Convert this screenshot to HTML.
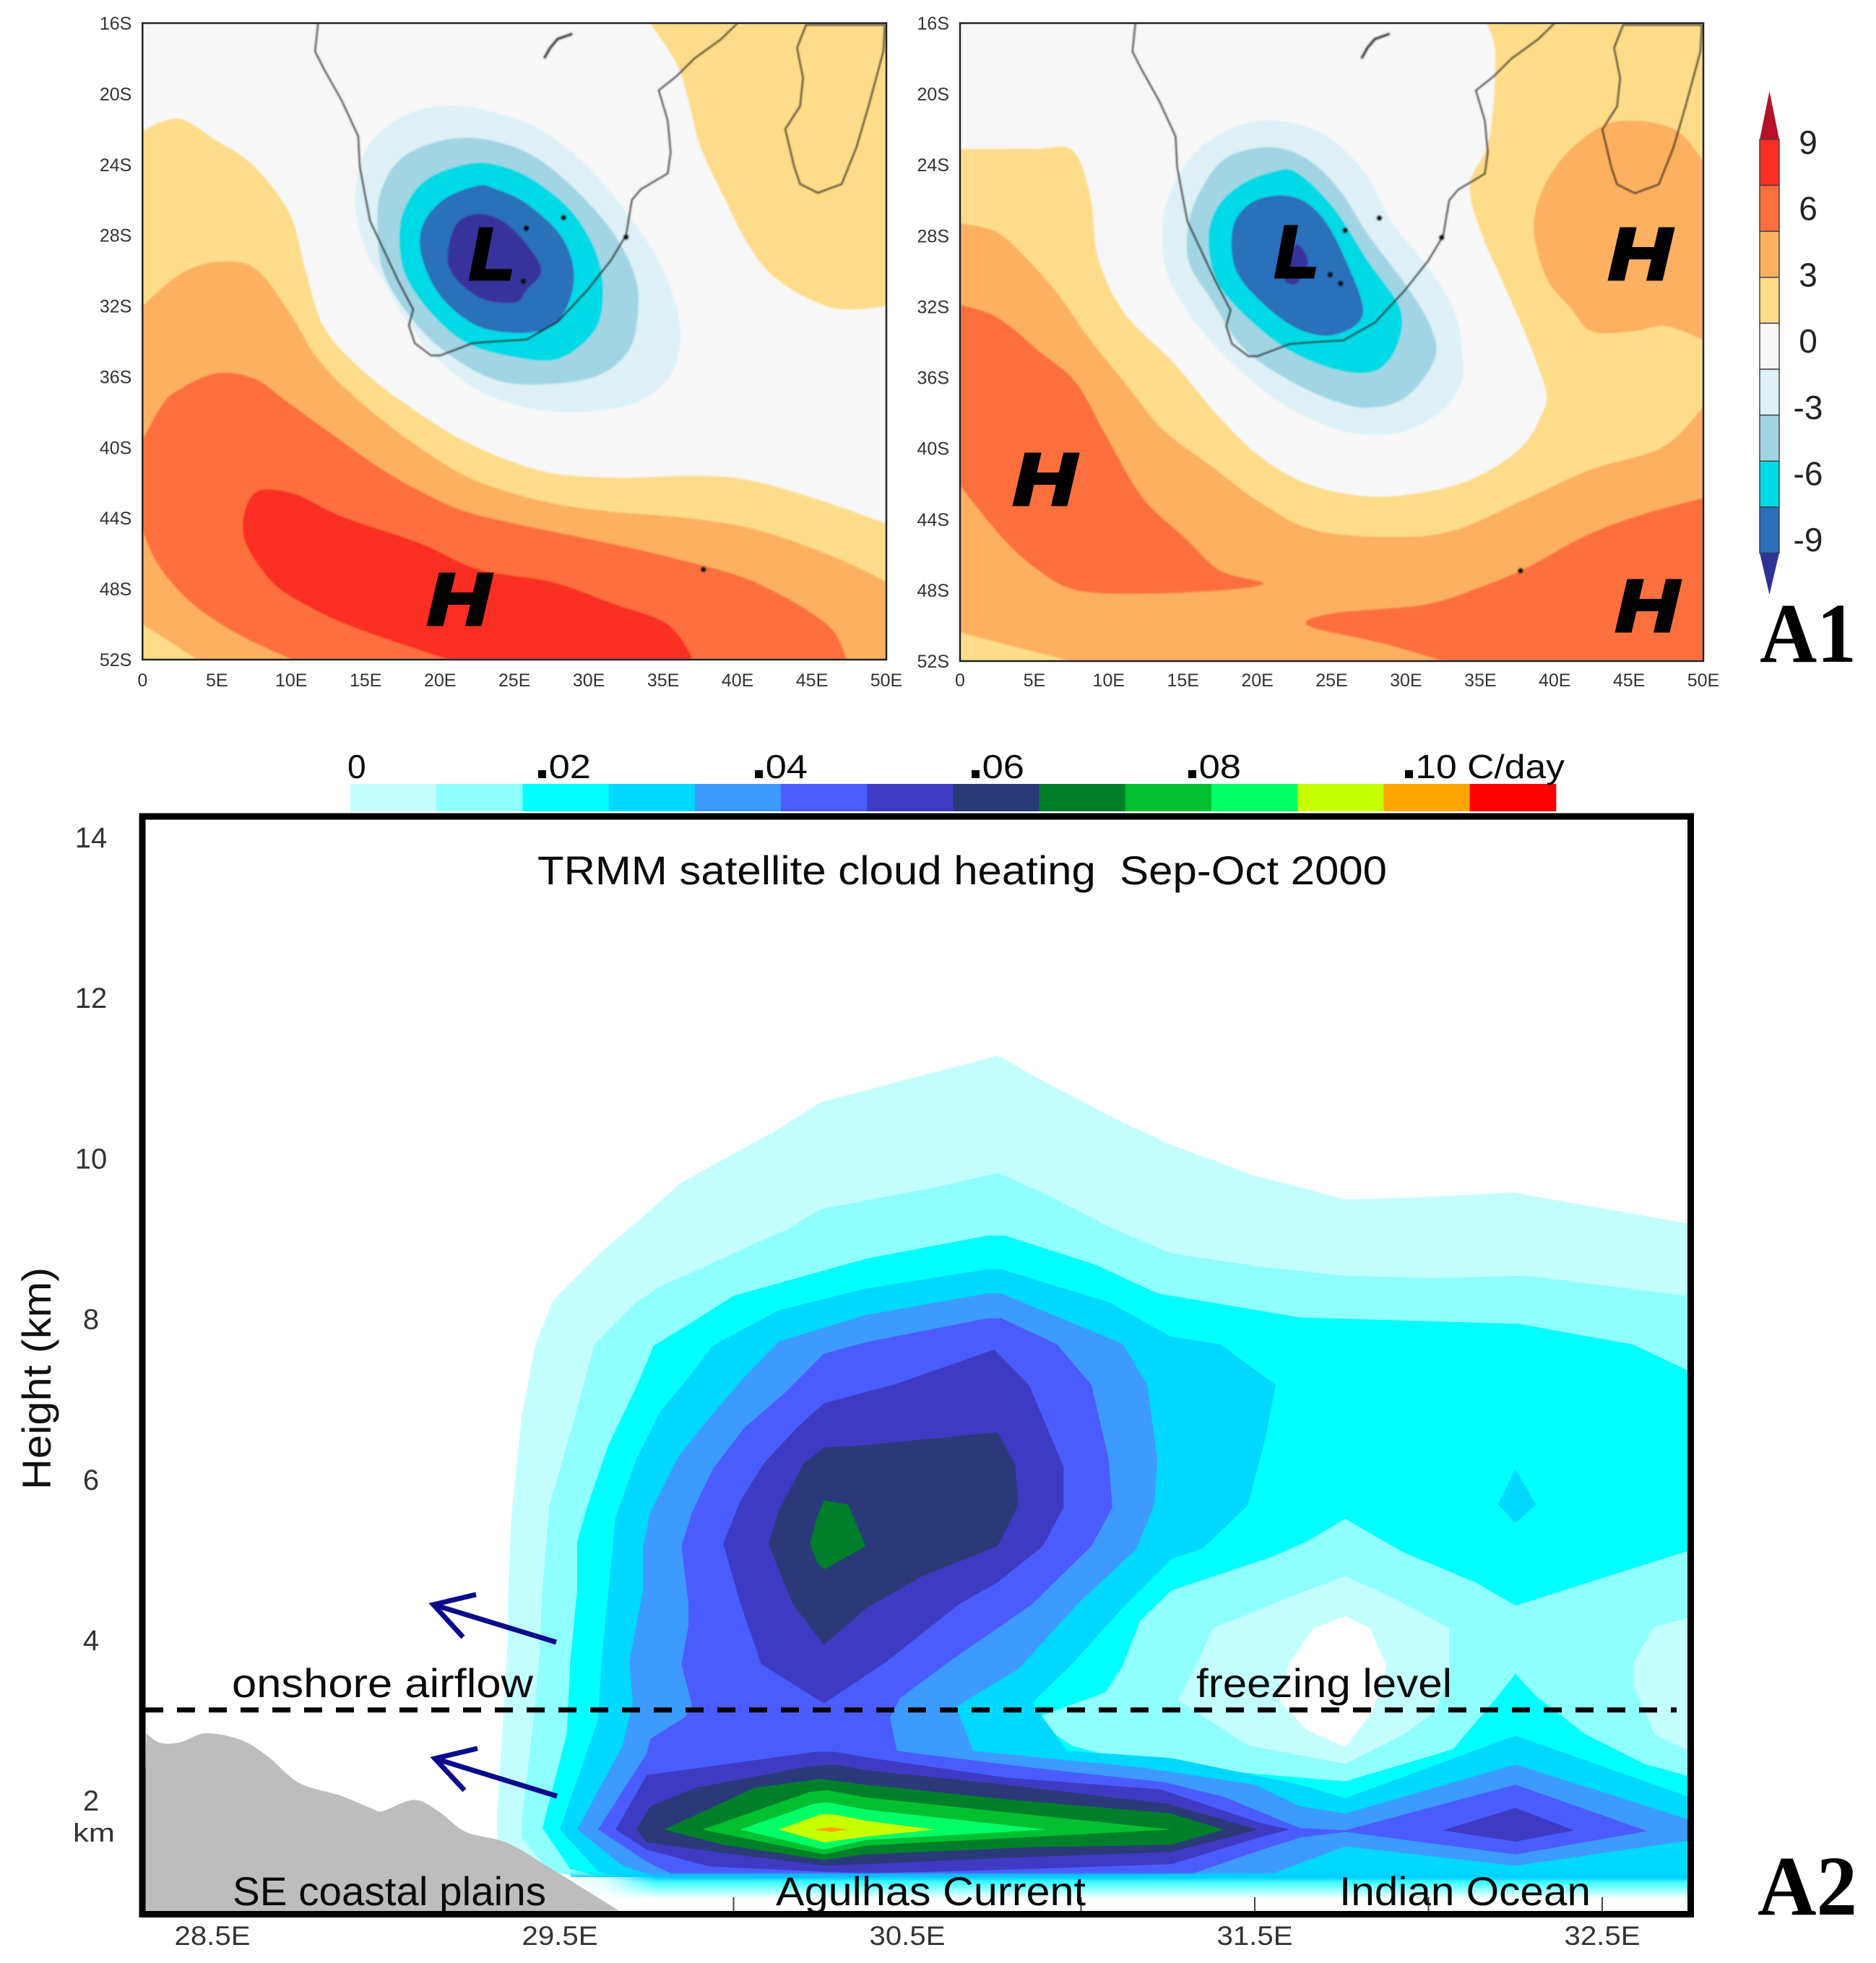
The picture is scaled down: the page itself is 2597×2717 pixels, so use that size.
<!DOCTYPE html>
<html lang="en">
<head>
<meta charset="utf-8">
<title>Pressure anomaly maps and TRMM cloud heating section</title>
<style>
html,body{margin:0;padding:0;background:#fff;}
svg{display:block;}
text{font-family:"Liberation Sans",sans-serif;}
.tick{fill:#333;}
.note{fill:#0b0b0b;}
</style>
</head>
<body>
<svg id="fig" xmlns="http://www.w3.org/2000/svg" width="2597" height="2717" viewBox="0 0 2597 2717">
<defs>
<clipPath id="clip-a"><rect x="197" y="32" width="1030" height="881"/></clipPath>
<clipPath id="clip-b"><rect x="1329" y="32" width="1029" height="883"/></clipPath>
<clipPath id="clip-c"><rect x="200" y="1134" width="2136" height="1512"/></clipPath>
<filter id="soft" x="-2%" y="-2%" width="104%" height="104%"><feGaussianBlur stdDeviation="1"/></filter>
<linearGradient id="fade" x1="0" y1="0" x2="0" y2="1">
<stop offset="0" stop-color="#00CCFF" stop-opacity="0"/>
<stop offset="0.21" stop-color="#00CCFF" stop-opacity="0.8"/>
<stop offset="0.42" stop-color="#40FFFF"/>
<stop offset="1" stop-color="#FFFFFF"/>
</linearGradient>
<linearGradient id="fade-left" x1="0" y1="0" x2="1" y2="0">
<stop offset="0" stop-color="#FFFFFF"/>
<stop offset="0.45" stop-color="#FFFFFF" stop-opacity="0.85"/>
<stop offset="1" stop-color="#FFFFFF" stop-opacity="0"/>
</linearGradient>
</defs>
<rect x="0" y="0" width="2597" height="2717" fill="#fff"/>
<g clip-path="url(#clip-a)"><g id="panel-a" filter="url(#soft)"></g></g>
<g clip-path="url(#clip-b)"><g id="panel-b" filter="url(#soft)"></g></g>
<g id="map-axes"></g>
<g id="map-cbar"></g>
<g id="section-cbar"></g>
<g id="section" clip-path="url(#clip-c)"></g>
<g id="section-axes"></g>

<g font-weight="bold" font-style="italic" fill="#000" stroke="#000" stroke-width="5" font-size="100">
<text x="650" y="386" textLength="62" lengthAdjust="spacingAndGlyphs">L</text>
<text x="592" y="864" textLength="86" lengthAdjust="spacingAndGlyphs">H</text>
<text x="1765" y="383" textLength="60" lengthAdjust="spacingAndGlyphs">L</text>
<text x="2227" y="386" textLength="86" lengthAdjust="spacingAndGlyphs">H</text>
<text x="1403" y="698" textLength="86" lengthAdjust="spacingAndGlyphs">H</text>
<text x="2237" y="873" textLength="86" lengthAdjust="spacingAndGlyphs">H</text>
</g>

<g font-weight="bold" fill="#000">
<text x="2436" y="916" font-size="118" style="font-family:'Liberation Serif',serif" textLength="134" lengthAdjust="spacingAndGlyphs">A1</text>
<text x="2433" y="2650" font-size="118" style="font-family:'Liberation Serif',serif" textLength="138" lengthAdjust="spacingAndGlyphs">A2</text>
</g>

<g class="note" font-size="56">
<text class="note" x="744" y="1224" textLength="1176" lengthAdjust="spacingAndGlyphs" xml:space="preserve">TRMM satellite cloud heating  Sep-Oct 2000</text>
<text class="note" x="321" y="2349" textLength="417" lengthAdjust="spacingAndGlyphs">onshore airflow</text>
<text class="note" x="1656" y="2349" textLength="354" lengthAdjust="spacingAndGlyphs">freezing level</text>
<text class="note" x="322" y="2637" textLength="434" lengthAdjust="spacingAndGlyphs">SE coastal plains</text>
<text class="note" x="1074" y="2637" textLength="429" lengthAdjust="spacingAndGlyphs">Agulhas Current</text>
<text class="note" x="1854" y="2637" textLength="348" lengthAdjust="spacingAndGlyphs">Indian Ocean</text>
</g>

<g fill="none" stroke="#0A0A8C" stroke-width="7">
<path d="M770 2273 L600 2221 M659 2207 L600 2221 L641 2266"/>
<path d="M771 2486 L602 2434 M661 2420 L602 2434 L643 2478"/>
</g>

<text transform="translate(70,2062) rotate(-90)" font-size="56" fill="#111" textLength="308" lengthAdjust="spacingAndGlyphs">Height (km)</text>
<text class="tick" x="101" y="2549" font-size="36" textLength="58" lengthAdjust="spacingAndGlyphs">km</text>
<rect x="197" y="1130" width="2143.5" height="1519.5" fill="none" stroke="#000" stroke-width="9"/>

<script>
/* ---------- map axes ---------- */
const mapLatTicks = [16,20,24,28,32,36,40,44,48,52];
const mapLonTicks = [0,5,10,15,20,25,30,35,40,45,50];

/* ---------- coastlines [lon, degrees south] ---------- */
const coastAfrica = [[11.8,16],[11.6,17.6],[12.2,18.6],[13.4,20.4],[14.5,22.4],[14.6,24.1],[15,25.9],[15.3,27.2],[16.2,28.8],[17.2,30.6],[18.2,32.2],[17.9,33.1],[18.3,34.1],[19.4,34.8],[20,34.8],[22.2,34.1],[23.8,34],[25.8,33.9],[27.9,32.9],[29.9,31.1],[31.5,29.4],[32.5,28],[32.9,26],[33.5,25.4],[35.3,24.5],[35.5,23.3],[35.3,21.5],[34.7,19.8],[35.9,19],[37.1,18],[38.9,16.9],[40,16]];
const coastMadagascar = [[49.9,16.1],[44.6,16.1],[44,17.4],[44.4,19.1],[44.2,20.7],[43.2,22],[43.8,24.1],[44.2,25.1],[45.4,25.6],[47,25.1],[48,23],[48.8,20.7],[49.8,17.6],[49.9,16.1]];
const lakeShore = [[27,18],[27.4,17.4],[27.9,16.9],[28.9,16.6]];
const islandsLeft = [[25.8,27.6],[28.3,27],[32.5,28.1],[25.6,30.6],[37.7,46.9]];
const islandsRight = [[25.9,27.7],[28.2,27],[32.4,28.1],[24.9,30.2],[25.6,30.7],[37.7,46.9]];

/* ---------- left map contours ---------- */
const leftWarm1 = [[0,22.1],[2.4,21.4],[4.9,22.6],[7.5,24.1],[9.9,26.8],[11,30.1],[12.2,33.2],[14.6,35.5],[17.8,37.6],[21.8,39.7],[26.7,41.3],[31.5,41.7],[37.5,41.6],[41.1,41.9],[45.6,43],[50,44.3],[50,52],[0,52]];
const leftWarm1East = [[34.1,16],[35.9,18.3],[36.7,20.4],[37.5,23],[39.1,25.9],[40.9,28.8],[42.8,30.6],[45.6,31.9],[47.6,32.2],[50,32],[50,16]];
const leftWarm2 = [[0,32],[2.5,30.2],[5,29.5],[7.6,29.9],[9.9,32.4],[11.8,35],[14.6,37.4],[18.6,40],[22.2,41.8],[26.7,43],[31.1,43.6],[36.7,44],[41.5,44.7],[46.8,46.3],[50,47.6],[50,52],[3.7,52],[0,50]];
const leftWarm3 = [[0,39.6],[1.3,37.6],[2.5,36.7],[5,35.8],[7.5,36.1],[9.7,37.4],[13,39.4],[16.6,41.5],[21,43.4],[25,44.3],[30.7,45.3],[35.9,46.3],[41.1,47.6],[46,50],[47.3,52],[10.1,52],[6.5,50.6],[3.3,48.8],[1.1,46.7],[0,44.7]];
const leftWarm4 = [[7.5,42.6],[10.1,42.6],[13.4,43.9],[18.6,45.4],[22.6,46.9],[27.5,47.6],[31.5,48.8],[35.3,50],[37,52],[20.6,52],[17,51],[14,50.1],[11.4,49.1],[8.7,47.6],[6.8,45]];
const leftCool1 = [[21.4,20.7],[18.6,20.9],[16.2,22],[14.8,23.6],[14.3,26.2],[15,28.8],[16.2,30.6],[17.8,32.9],[20.2,35.3],[23.4,37.1],[27.9,38],[32.7,37.6],[35.1,36.3],[36,34.8],[36,32.4],[34.7,29.5],[32.7,26.9],[29.9,24.1],[26.7,22],[23.8,21.1]];
const leftCool2 = [[22.4,22.5],[19.4,22.8],[17.2,23.8],[16,25.6],[15.8,27.7],[16.2,30.1],[17.8,32.4],[20.2,34.5],[23.8,36.2],[27.5,36.4],[30.7,35.9],[32.7,34.5],[33.3,32.4],[33.1,30.3],[31.5,27.7],[28.7,25.1],[25.8,23.3]];
const leftCool3 = [[22.4,23.9],[19.8,24.5],[18.2,25.6],[17.3,27.5],[17.6,30.1],[19.4,32.4],[21.8,34.1],[25,34.9],[27.9,35],[30.1,33.7],[30.9,32.1],[30.7,29.5],[29.1,26.9],[26.7,25.1],[24.6,24.2]];
const leftCool4 = [[22.5,25.2],[20.2,26],[18.8,27.5],[18.8,29.3],[20,31.4],[22.2,33],[24.6,33.5],[27.1,33.3],[28.5,32.1],[29,30.1],[28.1,28],[25.8,26.2],[23.8,25.4]];
const leftCool5 = [[22.5,26.8],[21,27.5],[20.6,29.8],[22.6,31.5],[25,31.8],[25.8,31.1],[26.8,30],[25.8,28.5],[24.2,27.2]];

/* ---------- right map contours ---------- */
const rightWarm1 = [[0,23.1],[2.5,23.1],[5.1,23.1],[7.6,23.2],[8.8,25.9],[9.3,29.3],[11.1,32.4],[14.4,35.2],[17.3,38.1],[20.1,40.4],[23.4,42],[27.5,42.7],[31.7,42.4],[35,41.5],[37.8,39.9],[39.1,38.1],[39.4,36.8],[38.2,33.9],[36.6,30.8],[35,27.7],[34.3,25.1],[35.6,22.5],[36,17.8],[35.4,16],[50,16],[50,52],[0,52]];
const rightWarm2 = [[0,27.3],[2.5,27.8],[4.5,29.3],[6.6,31.3],[8.6,33.7],[11.1,36.3],[13.6,38.9],[16.9,41],[20.1,43],[23.8,44.6],[29.2,45],[33.3,44.6],[38.2,42.8],[42.4,41.2],[47.3,39.9],[50,37.6],[50,52],[7.4,52],[0,50.4]];
const rightWarm2East = [[44.8,21.5],[42.4,22.2],[39.9,24.3],[38.6,27.2],[39.4,30.3],[41.1,32.1],[42.5,33.4],[45.2,33.4],[47.5,33.1],[50,33.9],[50,23.8],[48.1,22]];
const rightWarm3West = [[0,31.9],[2.5,32.6],[5.3,34.5],[7.8,36.3],[9.9,39.4],[12.3,42.8],[15.2,45.1],[17.5,46.9],[20.4,47.6],[17.7,48],[11.9,48.2],[7.8,48],[5.3,46.9],[2.9,45.1],[0,42.1]];
const rightWarm3East = [[50,42.8],[45.6,43.8],[41.9,45],[38.2,46.7],[35.4,47.7],[31.3,48.8],[25.1,49.3],[23.4,50],[28.4,51],[32.5,52],[50,52]];
const rightCool1 = [[21,21.5],[18.1,22],[15.6,23.5],[14,25.9],[13.6,28],[14,30.3],[15.6,32.6],[17.7,34.7],[21,37.1],[24.3,38.6],[27.1,39.2],[30,39],[32.5,37.8],[33.7,36.3],[33.8,34.7],[33.3,32.4],[31.7,30],[29.2,27.4],[27.1,24.3],[24.3,22.2]];
const rightCool2 = [[21,23],[18.1,23.5],[16.4,25.1],[15.4,27.2],[15.4,29.5],[16.9,31.6],[18.9,34.2],[21.8,36],[25.1,37.3],[27.5,37.7],[30,37.1],[31.9,35],[31.7,33.2],[30,30.8],[27.5,28],[25.5,25.4],[23.4,23.7]];
const rightCool3 = [[21,24.4],[18.9,25.1],[17.3,26.4],[16.7,28.2],[17.3,30.6],[19.3,32.6],[22.2,34.5],[25.5,35.6],[28,35.6],[29.4,34.2],[29.6,32.1],[27.5,29.5],[25.1,26.4],[22.6,24.4]];
const rightCool4 = [[19.9,26],[22.4,25.8],[24.3,26.9],[25.9,29.3],[27.1,32.4],[25.1,33.6],[22.6,33.2],[20.1,31.6],[18.5,29.8],[18.4,27.4]];
const rightCool5 = [[22.6,28.5],[23.4,29.5],[22.6,30.7],[21.8,30.3]];

/* ---------- anomaly colorbar ---------- */
const anomalyColors = ["#F92E20","#FD6F3C","#FDB05F","#FEDD8A","#F7F7F7","#DDF1F6","#A2D5E4","#00D9E6","#2A6FBB"];
const anomalyLabels = ["9","6","3","0","-3","-6","-9"];

/* ---------- section axes ---------- */
const heightTicks = [14,12,10,8,6,4,2];
const lonTicks = ["28.5E","29.5E","30.5E","31.5E","32.5E"];
const lonTickValues = [28.5,29.5,30.5,31.5,32.5];
const minorLonTicks = [30,31,31.5,32,32.5];
const freezingLevel = [3.12];

/* ---------- heating colorbar ---------- */
const heatingColors = ["#C4FFFF","#8FFFFF","#00FFFF","#00D8FF","#3D9BFF","#4B5CFF","#3D3BC4","#2A3A78","#007F2A","#00C030","#00FF66","#C8FF00","#FFA500","#FF0000"];
const heatingLabels = ["0",".02",".04",".06",".08",".10 C/day"];

/* ---------- section contours [lon E, height km] ---------- */
const heat1 = [[29.32,1.5],[29.32,1.92],[29.33,2.52],[29.35,4.02],[29.35,4.44],[29.36,5.52],[29.39,6.78],[29.43,7.68],[29.48,8.22],[29.61,8.79],[29.7,9.12],[29.85,9.69],[30.13,10.36],[30.25,10.69],[30.59,11.08],[30.76,11.27],[30.88,10.98],[31.11,10.46],[31.26,10.16],[31.49,9.79],[31.76,9.48],[32,9.51],[32.24,9.57],[32.76,9.17],[32.76,1],[29.6,1],[29.45,1.15]];
const heat2 = [[29.39,1.53],[29.39,1.77],[29.42,2.82],[29.44,3.72],[29.45,4.62],[29.47,5.67],[29.54,6.72],[29.6,7.68],[29.72,8.2],[29.79,8.4],[30.16,9.12],[30.25,9.36],[30.59,9.64],[30.76,9.81],[30.9,9.54],[31.09,9.12],[31.26,8.81],[31.5,8.65],[31.76,8.53],[32.02,8.5],[32.28,8.53],[32.76,8.27],[32.76,1],[29.6,1],[29.47,1.11]];
const heat3 = [[29.53,1.14],[29.45,1.65],[29.52,2.82],[29.53,3.72],[29.55,4.62],[29.55,5.22],[29.58,5.67],[29.64,6.42],[29.72,7.14],[29.77,7.66],[29.88,7.95],[30,8.28],[30.38,8.74],[30.73,9.03],[30.78,9.03],[31.04,8.67],[31.22,8.31],[31.63,8.01],[32.26,7.93],[32.59,7.67],[32.76,7.32],[32.76,1],[29.65,1]];
const gapLevel2 = [[31.76,5.5],[31.93,5.08],[32.14,4.7],[32.25,4.42],[32.76,5.12],[32.76,2.28],[32.62,2.45],[32.45,2.82],[32.31,3.29],[32.25,3.57],[32.19,3.24],[32.07,2.63],[31.76,2.23],[31.16,2.45],[30.97,2.68],[30.86,3.01],[31.07,3.34],[31.12,3.67],[31.17,4.23],[31.26,4.61],[31.55,5.03],[31.65,5.22]];
const gapLevel1 = [[31.76,4.79],[31.9,4.51],[32.06,4.14],[32.06,3.57],[32.02,3.1],[31.93,2.82],[31.76,2.45],[31.48,2.68],[31.28,3.24],[31.33,3.67],[31.38,4.14],[31.65,4.61]];
const gapLevel1East = [[32.76,4.28],[32.65,4.16],[32.59,3.71],[32.59,3.43],[32.65,2.82],[32.76,2.59]];
const gapClear = [[31.76,4.29],[31.83,4.14],[31.88,3.67],[31.84,3.1],[31.76,2.66],[31.65,2.87],[31.57,3.24],[31.6,3.71],[31.67,4.14]];
const heat4 = [[29.61,1.11],[29.5,1.63],[29.61,3],[29.62,3.72],[29.64,4.62],[29.66,5.52],[29.72,6.24],[29.79,6.85],[29.87,7.26],[29.94,7.66],[30.13,8.1],[30.38,8.37],[30.73,8.61],[30.77,8.61],[31.08,8.2],[31.26,7.77],[31.4,7.68],[31.56,7.17],[31.53,6.49],[31.48,5.67],[31.35,5.13],[31.26,5],[31.13,4.44],[30.98,3.72],[30.86,3.21],[30.96,2.61],[31.26,2.52],[31.63,2.19],[31.76,2.02],[32.25,2.8],[32.76,2.02],[32.76,1],[29.7,1]];
const heat4Spot = [[32.25,6.12],[32.31,5.68],[32.25,5.45],[32.2,5.68]];
const heat5 = [[29.68,1.18],[29.55,1.63],[29.68,2.67],[29.71,3.21],[29.7,3.72],[29.74,4.62],[29.74,5.16],[29.76,5.58],[29.84,6.27],[29.93,6.76],[30.03,7.26],[30.13,7.71],[30.38,8.04],[30.73,8.31],[30.77,8.31],[31.12,7.68],[31.19,7.17],[31.22,6.24],[31.21,5.67],[31.16,5.13],[30.99,4.44],[30.82,3.63],[30.64,3.16],[30.69,2.61],[31.18,2.4],[31.5,2.19],[31.63,1.92],[31.76,1.83],[32.25,2.44],[32.76,1.74],[32.76,1.5],[32.25,1.18],[31.76,1.42],[31.55,1.08],[29.8,1]];
const heat6 = [[29.82,1.08],[29.75,1.23],[29.61,1.63],[29.75,2.58],[29.76,2.76],[29.86,3.03],[29.88,3.18],[29.85,3.69],[29.87,4.17],[29.87,4.44],[29.85,5.16],[29.88,5.58],[29.94,6.12],[30.03,6.63],[30.15,7.08],[30.26,7.56],[30.38,7.7],[30.73,8],[30.77,8],[30.93,7.68],[31.03,7.17],[31.08,6.24],[31.09,5.64],[31.03,5.16],[30.86,4.44],[30.62,3.72],[30.48,3.27],[30.45,3.03],[30.47,2.61],[30.86,2.4],[31.24,2.22],[31.41,2.04],[31.63,1.65],[31.76,1.62],[32.25,2.19],[32.63,1.61],[32.25,1.32],[31.76,1.6],[31.63,1.53],[31.48,1.32],[31.32,1.08]];
const heat7Upper = [[30.02,4.44],[29.97,5.19],[30.02,5.73],[30.09,6.21],[30.19,6.67],[30.26,6.94],[30.38,7.08],[30.46,7.17],[30.75,7.61],[30.85,7.17],[30.95,6.15],[30.95,5.64],[30.89,5.16],[30.76,4.71],[30.65,4.44],[30.44,3.72],[30.26,3.2],[30.08,3.69]];
const heat8Upper = [[30.17,4.44],[30.1,5.19],[30.13,5.61],[30.2,6.18],[30.26,6.39],[30.38,6.42],[30.76,6.58],[30.81,6.18],[30.82,5.68],[30.76,5.16],[30.54,4.78],[30.38,4.38],[30.26,3.93]];
const heat9Upper = [[30.26,5.73],[30.33,5.68],[30.38,5.16],[30.26,4.87],[30.24,4.96],[30.22,5.19],[30.24,5.52]];
const heat7Lower = [[29.66,1.63],[29.75,2.31],[30.24,2.6],[30.29,2.6],[30.38,2.53],[30.78,2.28],[31.23,2.13],[31.51,1.72],[31.6,1.63],[31.52,1.54],[31.26,1.2],[30.86,1.14],[30.38,1.08],[29.93,1.17],[29.75,1.38]];
const heat7East = [[32.04,1.62],[32.25,1.9],[32.42,1.62],[32.25,1.48]];
const heat8Lower = [[29.72,1.63],[29.76,1.92],[29.89,2.15],[30.22,2.42],[30.29,2.44],[30.38,2.37],[30.78,2.19],[31.25,1.95],[31.51,1.63],[31.26,1.35],[30.86,1.29],[30.38,1.2],[30.26,1.18],[30,1.32],[29.75,1.47]];
const heat9Lower = [[29.8,1.63],[30.06,2.15],[30.25,2.26],[30.38,2.19],[30.78,2.01],[31.26,1.83],[31.41,1.63],[31.26,1.44],[30.86,1.41],[30.38,1.32],[30.26,1.25],[29.97,1.44]];
const heat10 = [[29.91,1.63],[30.22,2.1],[30.27,2.12],[30.38,2.03],[31.26,1.63],[30.38,1.43],[30.26,1.32]];
const heat11 = [[30.02,1.63],[30.23,1.95],[30.27,1.97],[30.38,1.88],[30.9,1.63],[30.38,1.5],[30.26,1.38]];
const heat12 = [[30.13,1.63],[30.25,1.82],[30.29,1.82],[30.38,1.74],[30.58,1.63],[30.38,1.54],[30.26,1.47]];
const heat13 = [[30.23,1.63],[30.28,1.66],[30.33,1.63],[30.28,1.6]];
const terrain = [[28.31,2.83],[28.35,2.71],[28.41,2.72],[28.48,2.83],[28.58,2.75],[28.66,2.54],[28.75,2.21],[28.87,2.05],[28.96,1.89],[28.99,1.86],[29.08,2],[29.15,1.86],[29.23,1.6],[29.35,1.46],[29.48,1.13],[29.67,0.62],[28.3,0.58]];

/* ---------- axis functions ---------- */
function lonAxis(x0, x1){ return function(v){ return x0 + (x1 - x0) * v / 50; }; }
function latAxis(y0, y1){ return function(v){ return y0 + (y1 - y0) * (v - 16) / 36; }; }
const sectionX = function(v){ return 294 + (v - 28.5) * 481; };
const sectionY = function(v){ return 1158 + (14 - v) * 111.1; };
const SVGNS = "http://www.w3.org/2000/svg";

function make(tag, parent, name){
  const el = document.createElementNS(SVGNS, tag);
  
  
  parent.appendChild(el);
  return el;
}
function pathFrom(points, fx, fy, closed){
  let d = "";
  for (let i = 0; i < points.length; i++){
    d += (i ? "L" : "M") + fx(points[i][0]).toFixed(1) + " " + fy(points[i][1]).toFixed(1);
  }
  return d + (closed ? "Z" : "");
}
/* closed spline through a contour's vertices; vertices flagged hard stay sharp */
function smoothFrom(points, fx, fy, isHard){
  const n = points.length;
  const sx = points.map(function(p){ return fx(p[0]); });
  const sy = points.map(function(p){ return fy(p[1]); });
  const tx = [], ty = [];
  for (let i = 0; i < n; i++){
    const a = (i + n - 1) % n, b = (i + 1) % n;
    const hard = isHard(points[i]);
    tx.push(hard ? 0 : (sx[b] - sx[a]) / 6);
    ty.push(hard ? 0 : (sy[b] - sy[a]) / 6);
  }
  let d = "M" + sx[0].toFixed(1) + " " + sy[0].toFixed(1);
  for (let i = 0; i < n; i++){
    const j = (i + 1) % n;
    d += "C" + (sx[i] + tx[i]).toFixed(1) + " " + (sy[i] + ty[i]).toFixed(1) + " " +
         (sx[j] - tx[j]).toFixed(1) + " " + (sy[j] - ty[j]).toFixed(1) + " " +
         sx[j].toFixed(1) + " " + sy[j].toFixed(1);
  }
  return d + "Z";
}
const onMapEdge = function(p){ return p[0] <= 0 || p[0] >= 50 || p[1] <= 16 || p[1] >= 52; };
const onTerrainEdge = function(p){ return p[1] < 0.7 || p[0] <= 28.31; };

function contour(parent, name, points, color, fx, fy){
  const el = make('path', parent, name);
  el.setAttribute('d', pathFrom(points, fx, fy, true));
  el.setAttribute('fill', color);
  return el;
}
function mapContour(parent, name, points, color, fx, fy){
  const el = make('path', parent, name);
  el.setAttribute('d', smoothFrom(points, fx, fy, onMapEdge));
  el.setAttribute('fill', color);
  return el;
}
function label(parent, name, str, x, y, size, anchor, cls){
  const el = make('text', parent, name);
  el.setAttribute('x', x);
  el.setAttribute('y', y);
  el.setAttribute('font-size', size);
  el.setAttribute('text-anchor', anchor);
  if (cls) el.setAttribute('class', cls);
  el.textContent = str;
  return el;
}

/* ---------- maps ---------- */
const warmA = "#FEDD8A", warmB = "#FDB05F", warmC = "#FD6F3C", warmD = "#FA2D20";
const coolA = "#DDF1F6", coolB = "#A2D5E4", coolC = "#00D9E6", coolD = "#2A6FBB", coolE = "#38309C";

function drawCoast(g, fx, fy, islands){
  const coastSets = [["coast-africa", coastAfrica], ["coast-madagascar", coastMadagascar]];
  coastSets.forEach(function(item){
    const c = make('path', g, item[0]);
    c.setAttribute('d', pathFrom(item[1], fx, fy, false));
    c.setAttribute('fill', 'none');
    c.setAttribute('stroke', '#1c1c1c');
    c.setAttribute('stroke-width', '2.6');
  });
  const lake = make('path', g, 'lake-outline');
  lake.setAttribute('d', pathFrom(lakeShore, fx, fy, false));
  lake.setAttribute('fill', 'none');
  lake.setAttribute('stroke', '#333');
  lake.setAttribute('stroke-width', '4');
  islands.forEach(function(p){
    const dot = make('circle', g, 'island-marker');
    dot.setAttribute('cx', fx(p[0]));
    dot.setAttribute('cy', fy(p[1]));
    dot.setAttribute('r', 4);
    dot.setAttribute('fill', '#111');
  });
}

(function drawLeft(){
  const g = document.getElementById('panel-a');
  const fx = lonAxis(197.3, 1227), fy = latAxis(32, 913);
  const bg = make('rect', g, 'map-background');
  bg.setAttribute('x', 190); bg.setAttribute('y', 25); bg.setAttribute('width', 1045); bg.setAttribute('height', 895);
  bg.setAttribute('fill', '#F7F7F7');
  mapContour(g, 'warm-band-1', leftWarm1, warmA, fx, fy);
  mapContour(g, 'warm-band-1-east', leftWarm1East, warmA, fx, fy);
  mapContour(g, 'warm-band-2', leftWarm2, warmB, fx, fy);
  mapContour(g, 'warm-band-3', leftWarm3, warmC, fx, fy);
  mapContour(g, 'warm-band-4', leftWarm4, warmD, fx, fy);
  mapContour(g, 'cool-band-1', leftCool1, coolA, fx, fy);
  mapContour(g, 'cool-band-2', leftCool2, coolB, fx, fy);
  mapContour(g, 'cool-band-3', leftCool3, coolC, fx, fy);
  mapContour(g, 'cool-band-4', leftCool4, coolD, fx, fy);
  mapContour(g, 'cool-band-5', leftCool5, coolE, fx, fy);
  drawCoast(g, fx, fy, islandsLeft);
})();

(function drawRight(){
  const g = document.getElementById('panel-b');
  const fx = lonAxis(1329, 2358), fy = latAxis(32, 915);
  const bg = make('rect', g, 'map-background');
  bg.setAttribute('x', 1322); bg.setAttribute('y', 25); bg.setAttribute('width', 1044); bg.setAttribute('height', 897);
  bg.setAttribute('fill', '#F7F7F7');
  mapContour(g, 'warm-band-1', rightWarm1, warmA, fx, fy);
  mapContour(g, 'warm-band-2', rightWarm2, warmB, fx, fy);
  mapContour(g, 'warm-band-2-east', rightWarm2East, warmB, fx, fy);
  mapContour(g, 'warm-band-3-west', rightWarm3West, warmC, fx, fy);
  mapContour(g, 'warm-band-3-east', rightWarm3East, warmC, fx, fy);
  mapContour(g, 'cool-band-1', rightCool1, coolA, fx, fy);
  mapContour(g, 'cool-band-2', rightCool2, coolB, fx, fy);
  mapContour(g, 'cool-band-3', rightCool3, coolC, fx, fy);
  mapContour(g, 'cool-band-4', rightCool4, coolD, fx, fy);
  mapContour(g, 'cool-band-5', rightCool5, coolE, fx, fy);
  drawCoast(g, fx, fy, islandsRight);
})();

(function drawMapAxes(){
  const g = document.getElementById('map-axes');
  const panels = [
    {x0:197.3, x1:1227, y0:32, y1:913},
    {x0:1329, x1:2358, y0:32, y1:915}
  ];
  panels.forEach(function(p){
    const fx = lonAxis(p.x0, p.x1), fy = latAxis(p.y0, p.y1);
    const frame = make('rect', g, 'map-frame');
    frame.setAttribute('x', p.x0); frame.setAttribute('y', p.y0);
    frame.setAttribute('width', p.x1 - p.x0); frame.setAttribute('height', p.y1 - p.y0);
    frame.setAttribute('fill', 'none');
    frame.setAttribute('stroke', '#222');
    frame.setAttribute('stroke-width', '2.5');
    mapLatTicks.forEach(function(v){
      label(g, 'latitude-tick-label', v + 'S', p.x0 - 15, fy(v) + 9, 25, 'end', 'tick');
    });
    mapLonTicks.forEach(function(v){
      label(g, 'longitude-tick-label', v === 0 ? '0' : v + 'E', fx(v), 950, 25, 'middle', 'tick');
    });
  });
})();

/* ---------- anomaly colorbar ---------- */
(function drawAnomalyBar(){
  const g = document.getElementById('map-cbar');
  const top = 193, step = 63.6, left = 2436, width = 27;
  const tipTop = make('path', g, 'colorbar-top-extension');
  tipTop.setAttribute('d', 'M' + left + ' ' + top + 'L' + (left + width / 2) + ' 126L' + (left + width) + ' ' + top + 'Z');
  tipTop.setAttribute('fill', '#B5122A');
  anomalyColors.forEach(function(c, i){
    const r = make('rect', g, 'colorbar-cell');
    r.setAttribute('x', left);
    r.setAttribute('y', top + i * step);
    r.setAttribute('width', width);
    r.setAttribute('height', step);
    r.setAttribute('fill', c);
    r.setAttribute('stroke', '#444');
    r.setAttribute('stroke-width', '1.5');
  });
  const bottom = top + anomalyColors.length * step;
  const tipBottom = make('path', g, 'colorbar-bottom-extension');
  tipBottom.setAttribute('d', 'M' + left + ' ' + bottom + 'L' + (left + width / 2) + ' 823L' + (left + width) + ' ' + bottom + 'Z');
  tipBottom.setAttribute('fill', '#2D3496');
  anomalyLabels.forEach(function(t, i){
    const el = label(g, 'colorbar-label', t, 2503, 213 + i * 91.7, 46, 'middle', 'tick');
    el.setAttribute('style', 'fill:#222');
  });
})();

/* ---------- heating colorbar ---------- */
(function drawHeatingBar(){
  const g = document.getElementById('section-cbar');
  const left = 485, cell = 119.2;
  heatingColors.forEach(function(c, i){
    const r = make('rect', g, 'colorbar-cell');
    r.setAttribute('x', left + i * cell);
    r.setAttribute('y', 1085);
    r.setAttribute('width', cell + 0.5);
    r.setAttribute('height', 38);
    r.setAttribute('fill', c);
  });
  heatingLabels.forEach(function(t, i){
    const x = i === 0 ? 481 : 745 + (i - 1) * 300;
    const el = label(g, 'colorbar-label', t, x, 1077, 46, 'start', 'note');
    if (i > 0) {
      el.setAttribute('textLength', i === 5 ? 221 : 73);
      el.setAttribute('lengthAdjust', 'spacingAndGlyphs');
      const d = make('rect', g, 'decimal-point');
      d.setAttribute('x', x);
      d.setAttribute('y', 1066);
      d.setAttribute('width', 11);
      d.setAttribute('height', 11);
      d.setAttribute('fill', '#000');
    }
  });
})();

/* ---------- section contours ---------- */
(function drawSection(){
  const g = document.getElementById('section');
  const c = heatingColors;
  const layers = [
    ['heating-level-1', heat1, c[0]],
    ['heating-level-2', heat2, c[1]],
    ['heating-level-3', heat3, c[2]],
    ['heating-gap-level-2', gapLevel2, c[1]],
    ['heating-gap-level-1', gapLevel1, c[0]],
    ['heating-gap-level-1-east', gapLevel1East, c[0]],
    ['heating-gap-clear', gapClear, '#FFFFFF'],
    ['heating-level-4', heat4, c[3]],
    ['heating-level-4-spot', heat4Spot, c[3]],
    ['heating-level-5', heat5, c[4]],
    ['heating-level-6', heat6, c[5]],
    ['heating-level-7-upper', heat7Upper, c[6]],
    ['heating-level-8-upper', heat8Upper, c[7]],
    ['heating-level-9-upper', heat9Upper, c[8]],
    ['heating-level-7-lower', heat7Lower, c[6]],
    ['heating-level-7-east', heat7East, c[6]],
    ['heating-level-8-lower', heat8Lower, c[7]],
    ['heating-level-9-lower', heat9Lower, c[8]],
    ['heating-level-10', heat10, c[9]],
    ['heating-level-11', heat11, c[10]],
    ['heating-level-12', heat12, c[11]],
    ['heating-level-13', heat13, c[12]]
  ];
  layers.forEach(function(l){ contour(g, l[0], l[1], l[2], sectionX, sectionY); });

  const fade = make('rect', g, 'surface-fade');
  fade.setAttribute('x', 790);
  fade.setAttribute('y', 2590);
  fade.setAttribute('width', 1550);
  fade.setAttribute('height', 38);
  fade.setAttribute('fill', 'url(#fade)');

  const fadeEdge = make('rect', g, 'surface-fade-edge');
  fadeEdge.setAttribute('x', 780);
  fadeEdge.setAttribute('y', 2598);
  fadeEdge.setAttribute('width', 130);
  fadeEdge.setAttribute('height', 34);
  fadeEdge.setAttribute('fill', 'url(#fade-left)');

  const land = make('path', g, 'coastal-terrain');
  land.setAttribute('d', smoothFrom(terrain, sectionX, sectionY, onTerrainEdge));
  land.setAttribute('fill', '#BDBDBD');

  freezingLevel.forEach(function(v){
    const line = make('line', g, 'freezing-level-line');
    line.setAttribute('x1', 201);
    line.setAttribute('x2', 2321);
    line.setAttribute('y1', sectionY(v));
    line.setAttribute('y2', sectionY(v));
    line.setAttribute('stroke', '#000');
    line.setAttribute('stroke-width', '7');
    line.setAttribute('stroke-dasharray', '25 19');
  });

  minorLonTicks.forEach(function(v){
    const t = make('line', g, 'minor-x-tick');
    t.setAttribute('x1', sectionX(v));
    t.setAttribute('x2', sectionX(v));
    t.setAttribute('y1', 2626);
    t.setAttribute('y2', 2646);
    t.setAttribute('stroke', '#444');
    t.setAttribute('stroke-width', '2');
  });
})();

/* ---------- section axes ---------- */
(function drawSectionAxes(){
  const g = document.getElementById('section-axes');
  heightTicks.forEach(function(v){
    label(g, 'y-axis-tick-label', String(v), 126, sectionY(v) + 15, 40, 'middle', 'tick');
  });
  lonTicks.forEach(function(t, i){
    const el = label(g, 'x-axis-tick-label', t, sectionX(lonTickValues[i]), 2692, 37, 'middle', 'tick');
    el.setAttribute('textLength', 105);
    el.setAttribute('lengthAdjust', 'spacingAndGlyphs');
  });
})();
</script>
</svg>
</body>
</html>
